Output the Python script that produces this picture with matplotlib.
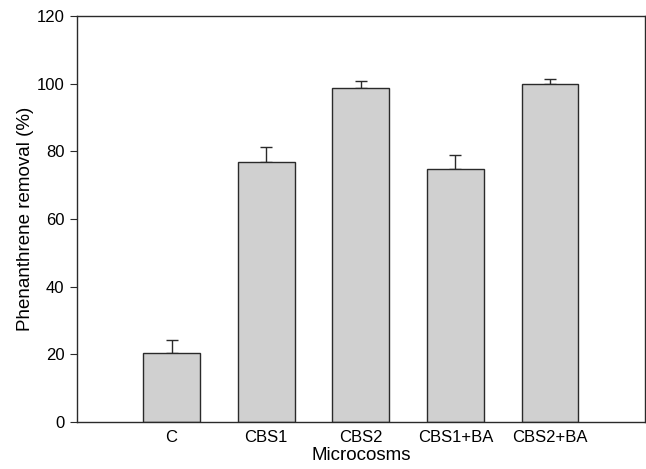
import matplotlib.pyplot as plt

plt.rcParams['font.family'] = ['Liberation Sans', 'DejaVu Sans']

# Microcosm treatments and phenanthrene removal (%)
categories = ['C', 'CBS1', 'CBS2', 'CBS1+BA', 'CBS2+BA']
removal = [20.5, 76.9, 98.8, 74.9, 99.9]
removal_err = [3.8, 4.5, 2.1, 3.9, 1.5]
y_ticks = [0, 20, 40, 60, 80, 100, 120]


def main():
    fig = plt.figure(figsize=(6.46, 4.69), dpi=100)
    ax = fig.add_axes([0.119, 0.100, 0.879, 0.866])

    positions = list(range(1, len(categories) + 1))
    ax.bar(positions, removal, width=0.6, color='#d0d0d0',
           edgecolor='#2a2a2a', linewidth=1.0, zorder=2)
    # only the upper half of the error bar is drawn
    ax.errorbar(positions, removal, yerr=[[0] * len(removal), removal_err],
                fmt='none', ecolor='#2a2a2a', elinewidth=1.0,
                capsize=4, capthick=1.0, zorder=1)

    ax.set_xlim(0, 6)
    ax.set_ylim(0, 120)
    ax.set_xticks(positions)
    ax.set_xticklabels(categories)
    ax.set_yticks(y_ticks)
    ax.tick_params(axis='x', length=0, labelsize=12, pad=6)
    ax.tick_params(axis='y', direction='out', length=5, labelsize=12,
                   color='#2a2a2a', pad=4)
    for spine in ax.spines.values():
        spine.set_color('#2a2a2a')
        spine.set_linewidth(1.0)

    ax.set_xlabel('Microcosms', fontsize=13.5, labelpad=1)
    ax.set_ylabel('Phenanthrene removal (%)', fontsize=13.5, labelpad=2)

    fig.savefig('out.png', dpi=100)


if __name__ == '__main__':
    main()
